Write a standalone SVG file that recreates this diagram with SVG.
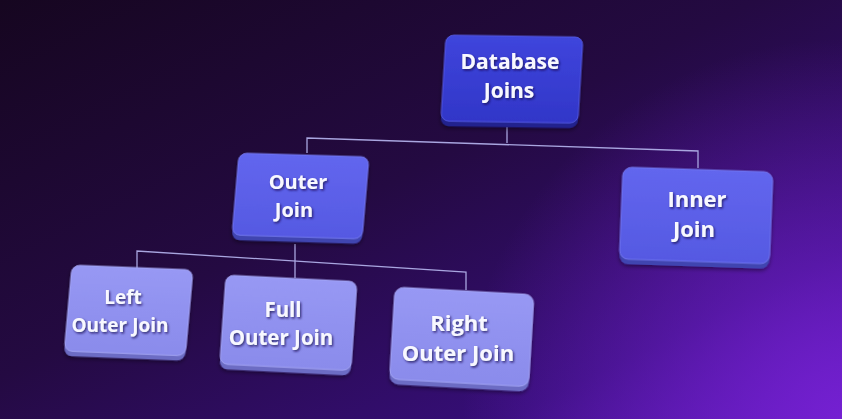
<svg xmlns="http://www.w3.org/2000/svg" width="842" height="419" viewBox="0 0 842 419">
  <defs>
    <linearGradient id="bg" x1="0" y1="0" x2="1" y2="1">
      <stop offset="0" stop-color="#160620"/>
      <stop offset="0.45" stop-color="#240a42"/>
      <stop offset="0.8" stop-color="#360e78"/>
      <stop offset="1" stop-color="#5516b0"/>
    </linearGradient>
    <radialGradient id="glow" cx="842" cy="419" r="380" gradientUnits="userSpaceOnUse">
      <stop offset="0" stop-color="#7a22d8" stop-opacity="0.85"/>
      <stop offset="1" stop-color="#7a22d8" stop-opacity="0"/>
    </radialGradient>
    <linearGradient id="gDb" x1="0" y1="0" x2="0" y2="1">
      <stop offset="0" stop-color="#3f45dc"/>
      <stop offset="1" stop-color="#3136c8"/>
    </linearGradient>
    <linearGradient id="gMid" x1="0" y1="0" x2="0" y2="1">
      <stop offset="0" stop-color="#6266ee"/>
      <stop offset="1" stop-color="#5559e2"/>
    </linearGradient>
    <linearGradient id="gLeaf" x1="0" y1="0" x2="0" y2="1">
      <stop offset="0" stop-color="#9798f4"/>
      <stop offset="1" stop-color="#8a8beb"/>
    </linearGradient>
    <filter id="ts" x="-10%" y="-10%" width="120%" height="120%">
      <feDropShadow dx="1.2" dy="1.5" stdDeviation="0.8" flood-color="#1a1050" flood-opacity="0.8"/>
    </filter>
    <filter id="bs" x="-10%" y="-10%" width="120%" height="125%">
      <feDropShadow dx="0" dy="2" stdDeviation="2" flood-color="#000000" flood-opacity="0.45"/>
    </filter>
  </defs>
  <style>
    .lbl { font-family: "Open Sans", "Noto Sans", "Liberation Sans", sans-serif; font-weight: 700; fill: #f8f8ff; text-anchor: middle; }
    .txt { filter: url(#ts); }
    .conn { fill: none; stroke: #a9a6e0; stroke-width: 1.3; }
    .dDb { fill: #22248e; }
    .dMid { fill: #4044b0; }
    .dLeaf { fill: #6c6cc4; }
    .fDb { fill: url(#gDb); stroke: #5a60e8; stroke-width: 0.8; }
    .fMid { fill: url(#gMid); stroke: #7a7ef4; stroke-width: 0.8; }
    .fLeaf { fill: url(#gLeaf); stroke: #aaabf8; stroke-width: 0.8; }
  </style>

  <rect width="842" height="419" fill="url(#bg)"/>
  <rect width="842" height="419" fill="url(#glow)"/>

  <g id="connectors">
    <polyline class="conn" points="507,127 507,143"/>
    <polyline class="conn" points="307,153 307,138 698,151 698,168"/>
    <polyline class="conn" points="295,244 295,278"/>
    <polyline class="conn" points="137,268 137,251 466,272 466,290"/>
  </g>

  <g id="node-database-joins">
    <g filter="url(#bs)" transform="matrix(1,0.015,-0.06,1,446,35)">
      <rect class="dDb" x="0" y="5" width="137" height="86" rx="8"/>
      <rect class="fDb" x="0" y="0" width="137" height="86" rx="8"/>
    </g>
    <g class="txt">
      <text class="lbl" x="510" y="68.5" font-size="21">Database</text>
      <text class="lbl" x="509" y="97.5" font-size="21">Joins</text>
    </g>
  </g>

  <g id="node-outer-join">
    <g filter="url(#bs)" transform="matrix(1,0.03,-0.085,1,239,153)">
      <rect class="dMid" x="0" y="5" width="130" height="82" rx="8"/>
      <rect class="fMid" x="0" y="0" width="130" height="82" rx="8"/>
    </g>
    <g class="txt">
      <text class="lbl" x="298" y="189" font-size="20">Outer</text>
      <text class="lbl" x="294" y="216.5" font-size="20">Join</text>
    </g>
  </g>

  <g id="node-inner-join">
    <g filter="url(#bs)" transform="matrix(1,0.033,-0.04,1,623,167)">
      <rect class="dMid" x="0" y="5" width="150" height="92" rx="9"/>
      <rect class="fMid" x="0" y="0" width="150" height="92" rx="9"/>
    </g>
    <g class="txt">
      <text class="lbl" x="697" y="207" font-size="22">Inner</text>
      <text class="lbl" x="694" y="237" font-size="22">Join</text>
    </g>
  </g>

  <g id="node-left-outer-join">
    <g filter="url(#bs)" transform="matrix(1,0.04,-0.09,1,72,265)">
      <rect class="dLeaf" x="0" y="5" width="121" height="86" rx="8"/>
      <rect class="fLeaf" x="0" y="0" width="121" height="86" rx="8"/>
    </g>
    <g class="txt">
      <text class="lbl" x="123" y="304" font-size="19">Left</text>
      <text class="lbl" x="120" y="332" font-size="19">Outer Join</text>
    </g>
  </g>

  <g id="node-full-outer-join">
    <g filter="url(#bs)" transform="matrix(1,0.05,-0.07,1,226,275)">
      <rect class="dLeaf" x="0" y="5" width="131" height="89" rx="8"/>
      <rect class="fLeaf" x="0" y="0" width="131" height="89" rx="8"/>
    </g>
    <g class="txt">
      <text class="lbl" x="283" y="317" font-size="20.5">Full</text>
      <text class="lbl" x="281" y="345" font-size="20.5">Outer Join</text>
    </g>
  </g>

  <g id="node-right-outer-join">
    <g filter="url(#bs)" transform="matrix(1,0.055,-0.06,1,395,287)">
      <rect class="dLeaf" x="0" y="5" width="139" height="92" rx="9"/>
      <rect class="fLeaf" x="0" y="0" width="139" height="92" rx="9"/>
    </g>
    <g class="txt">
      <text class="lbl" x="459" y="331" font-size="22">Right</text>
      <text class="lbl" x="458" y="361" font-size="22">Outer Join</text>
    </g>
  </g>
</svg>
